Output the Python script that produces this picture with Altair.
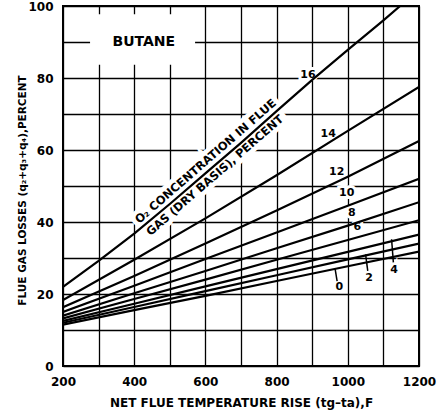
import altair as alt
import pandas as pd

# ---- data ----
temps = [200, 400, 600, 800, 1000, 1200]
o2_0 = [11.5, 15.5, 19.5, 23.6, 27.7, 31.8]
o2_2 = [12.0, 16.4, 20.8, 25.2, 29.6, 34.0]
o2_4 = [12.5, 17.3, 22.1, 26.9, 31.7, 36.5]
o2_6 = [13.2, 18.6, 24.0, 29.5, 35.0, 40.5]
o2_8 = [14.0, 20.2, 26.4, 32.7, 39.0, 45.5]
o2_10 = [15.0, 22.3, 29.7, 37.1, 44.5, 52.0]
o2_12 = [16.3, 25.0, 34.0, 43.2, 52.6, 62.5]
o2_14 = [18.3, 29.5, 41.0, 53.0, 65.3, 77.5]
temps_16 = [200, 300, 400, 500, 600, 700, 800, 900, 1000, 1100, 1147]
o2_16 = [22.0, 29.2, 36.8, 45.0, 53.5, 62.0, 70.8, 79.5, 87.8, 96.0, 100.0]

label_text = ["16", "14", "12", "10", "8", "6", "0", "2", "4"]
label_t = [888, 945, 969, 997, 1011, 1027, 976, 1060, 1130]
label_v = [80.8, 64.4, 54.0, 48.0, 42.4, 38.5, 21.9, 24.4, 26.7]

leader_t = [964, 1050, 1123]
leader_v = [27.2, 31.0, 35.2]
leader_t2 = [970, 1056, 1128]
leader_v2 = [23.6, 26.4, 28.8]

diag_text = ["O\u2082 CONCENTRATION IN FLUE", "GAS (DRY BASIS), PERCENT"]
diag_t = [602, 628]
diag_v = [56.7, 52.8]

title_text = ["BUTANE"]
title_t = [427]
title_v = [90.1]
box_t = [276]
box_t2 = [571]
box_v = [83.7]
box_v2 = [97.7]

x_grid = list(range(200, 1201, 100))
y_grid = list(range(0, 101, 10))

# ---- tables ----
rows = []
for lvl, vals in [(0, o2_0), (2, o2_2), (4, o2_4), (6, o2_6), (8, o2_8),
                  (10, o2_10), (12, o2_12), (14, o2_14)]:
    for t, v in zip(temps, vals):
        rows.append({"o2": lvl, "t": t, "v": v})
for t, v in zip(temps_16, o2_16):
    rows.append({"o2": 16, "t": t, "v": v})
lines_df = pd.DataFrame(rows)

labels_df = pd.DataFrame({"text": label_text, "t": label_t, "v": label_v})
leaders_df = pd.DataFrame({"t": leader_t, "v": leader_v, "t2": leader_t2, "v2": leader_v2})
diag_df = pd.DataFrame({"text": diag_text, "t": diag_t, "v": diag_v})
title_df = pd.DataFrame({"text": title_text, "t": title_t, "v": title_v})
box_df = pd.DataFrame({"t": box_t, "t2": box_t2, "v": box_v, "v2": box_v2})

FONT = "DejaVu Sans"
xs = alt.Scale(domain=[200, 1200], nice=False, zero=False)
ys = alt.Scale(domain=[0, 100], nice=False, zero=False)

x_axis = alt.Axis(
    values=x_grid,
    labelExpr="datum.value % 200 == 0 ? datum.label : ''",
    format="d",
    grid=True, gridColor="black", gridWidth=1.3, gridOpacity=1,
    domain=False, ticks=False,
    labelFont=FONT, labelFontSize=12, labelFontWeight="bold", labelColor="black",
    labelPadding=10, labelFlush=False, labelOverlap=False,
    title="NET FLUE TEMPERATURE RISE (tg\u2013ta),F",
    titleFont=FONT, titleFontSize=12, titleFontWeight="bold", titleColor="black",
    titleX=178, titleY=36, titleBaseline="middle",
)
y_axis = alt.Axis(
    values=y_grid,
    labelExpr="datum.value % 20 == 0 ? datum.label : ''",
    grid=True, gridColor="black", gridWidth=1.3, gridOpacity=1,
    domain=False, ticks=False,
    labelFont=FONT, labelFontSize=12, labelFontWeight="bold", labelColor="black",
    labelPadding=10, labelFlush=False, labelOverlap=False,
    title="FLUE GAS LOSSES (q\u2082+q\u2083+q\u2084),PERCENT",
    titleFont=FONT, titleFontSize=10.5, titleFontWeight="bold", titleColor="black",
    titleX=-41, titleY=184, titleBaseline="middle", titleAngle=270,
)


def X(field="t:Q"):
    return alt.X(field, scale=xs, axis=x_axis)


def Y(field="v:Q"):
    return alt.Y(field, scale=ys, axis=y_axis)


box = alt.Chart(box_df).mark_rect(color="white").encode(
    x=X(), x2="t2:Q", y=Y(), y2="v2:Q",
)

halo_labels = alt.Chart(labels_df).mark_text(
    font=FONT, fontSize=11, fontWeight="bold", color="white",
    stroke="white", strokeWidth=6
).encode(x=X(), y=Y(), text="text:N")

halo_diag = alt.Chart(diag_df).mark_text(
    font=FONT, fontSize=11.5, fontWeight="bold", color="white",
    stroke="white", strokeWidth=9, angle=319
).encode(x=X(), y=Y(), text="text:N")

lines = alt.Chart(lines_df).mark_line(color="black", strokeWidth=2.2, clip=True).encode(
    x=X(), y=Y(), detail="o2:N", order="t:Q",
)

leaders = alt.Chart(leaders_df).mark_rule(color="black", strokeWidth=1.5).encode(
    x=X(), y=Y(), x2="t2:Q", y2="v2:Q"
)

text_labels = alt.Chart(labels_df).mark_text(
    font=FONT, fontSize=11, fontWeight="bold", color="black"
).encode(x=X(), y=Y(), text="text:N")

text_diag = alt.Chart(diag_df).mark_text(
    font=FONT, fontSize=11.5, fontWeight="bold", color="black", angle=319
).encode(x=X(), y=Y(), text="text:N")

text_title = alt.Chart(title_df).mark_text(
    font=FONT, fontSize=14, fontWeight="bold", color="black"
).encode(x=X(), y=Y(), text="text:N")

chart = alt.layer(
    box, halo_labels, halo_diag, lines, leaders, text_labels, text_diag, text_title
).properties(
    width=356, height=360,
    autosize=alt.AutoSizeParams(type="none"),
    padding={"left": 63, "top": 6, "right": 26, "bottom": 54},
    background="white",
).configure_view(stroke="black", strokeWidth=2)

chart.save("out.html", embed_options={"renderer": "svg", "actions": False})
